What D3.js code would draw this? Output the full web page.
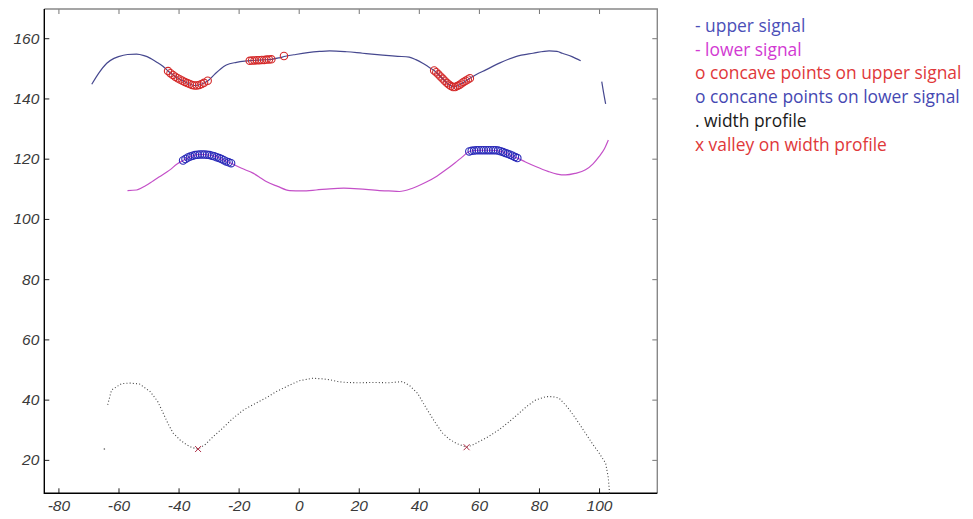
<!DOCTYPE html>
<html>
<head>
<meta charset="utf-8">
<script src="https://cdn.jsdelivr.net/npm/d3@7"></script>
<style>
  body { margin: 0; background: #fff; }
  .tick text { font-family: "Liberation Sans", Arial, sans-serif; font-style: italic; font-size: 15.5px; fill: #3a3a3a; }
  .legend text { font-family: "Open Sans", Lato, sans-serif; font-size: 17.4px; }
</style>
</head>
<body>
<svg width="973" height="519"></svg>
<script>
// upper signal, null marks the gap before the last short piece
const upperSignal = [
  [-68.9,144.7],[-66.5,148.5],[-63.9,151.7],[-61.5,153.3],[-60,153.9],[-57,154.6],[-54,154.7],
  [-51.5,154.2],[-49.5,153.4],[-47.5,152.2],[-45.1,150.6],[-43.5,149.1],[-41,147.2],[-38.5,145.8],
  [-36.5,144.9],[-34.6,144.3],[-32.5,144.7],[-30.2,145.9],[-28,148],[-26,149.8],[-24.1,151.1],
  [-20.7,152],[-18,152.4],[-15.7,152.6],[-12,152.8],[-9.1,153],[-6.5,153.5],[-4.4,154],[-1,154.6],
  [3,155.2],[7,155.6],[10.3,155.8],[16,155.5],[21.3,155],[28,154.4],[33,154],[36.8,153.7],
  [39,152.9],[41.3,151.7],[43.5,150.3],[45.1,149.3],[47.5,147],[49.5,145],[51.7,143.8],[54,144.8],
  [57,146.7],[59,147.9],[62.3,149.5],[67,151.8],[72.3,153.9],[78,155],[83.4,155.8],[86,155.6],
  [87.8,155],[91,153.9],[93.9,152.5],
  null,
  [100.9,145.6],[101.5,142],[102.2,138.2]
];

const lowerSignal = [
  [-57,109.4],[-54,109.6],[-51,111],[-48.5,112.6],[-46.2,114.1],[-43,116.2],[-40.5,118.2],
  [-38.5,119.4],[-36,120.7],[-33,121.4],[-30.5,121.3],[-27.5,120.7],[-25,119.6],[-22.5,118.5],
  [-19,116.8],[-15.2,115.2],[-12.5,113.5],[-10.8,112.4],[-7,110.8],[-3,109.4],[1,109.3],
  [5.8,109.6],[10.3,110],[15,110.2],[20,110],[26.9,109.4],[30,109.3],[33.5,109.1],[37.9,110.2],
  [42,112],[46,114.2],[49,116.3],[52,118.6],[54.5,120.6],[56.8,122.4],[60,122.8],[64,122.8],
  [67,122.5],[70,121.4],[72.8,120.2],[75.5,118.9],[78.9,117.4],[83,115.8],[86,114.9],[88.9,114.6],
  [92,115.1],[95.5,116.3],[98,118.3],[100,120.7],[101.8,123.3],[103.1,126.2]
];

const concaveUpper = [
  [-43.5,149.1],[-42.7,148.4],[-41.9,147.8],[-41.1,147.2],[-40.3,146.7],[-39.5,146.3],[-38.7,145.9],
  [-37.9,145.5],[-37.1,145.1],[-36.3,144.8],[-35.5,144.5],[-34.7,144.3],[-33.9,144.3],[-33.1,144.5],
  [-32.3,144.8],[-31.5,145.2],[-30.3,145.9],
  [-16.3,152.5],[-15.5,152.6],[-14.7,152.6],[-13.9,152.7],[-13.1,152.7],[-12.3,152.8],[-11.5,152.8],
  [-10.7,152.9],[-9.9,152.9],[-9.1,153],[-4.9,154.1],
  [45.1,149.3],[45.8,148.7],[46.5,148],[47.2,147.3],[47.9,146.6],[48.6,145.9],[49.3,145.2],
  [50,144.6],[50.7,144.1],[51.4,143.8],[52.1,143.8],[52.8,144.1],[53.5,144.5],[54.2,145],
  [54.9,145.5],[55.6,145.9],[56.3,146.3],[57,146.7]
];

const concaveLower = [
  [-38.5,119.4],[-37.7,119.9],[-36.9,120.4],[-36.1,120.7],[-35.3,121],[-34.5,121.2],[-33.7,121.3],
  [-32.9,121.4],[-32.1,121.4],[-31.3,121.4],[-30.5,121.3],[-29.7,121.2],[-28.9,121],[-28.1,120.8],
  [-27.3,120.5],[-26.5,120.2],[-25.7,119.9],[-24.9,119.5],[-24.1,119.1],[-23.3,118.8],[-22.5,118.5],
  [56.8,122.4],[57.6,122.6],[58.4,122.7],[59.2,122.8],[60,122.8],[60.8,122.8],[61.6,122.8],
  [62.4,122.8],[63.2,122.8],[64,122.8],[64.8,122.8],[65.6,122.8],[66.4,122.7],[67.2,122.5],
  [68,122.2],[68.8,121.9],[69.6,121.6],[70.4,121.3],[71.2,121],[72,120.6],[72.8,120.2]
];

// width profile, a stray first point then the main trace
const widthProfile = [
  [-64.7,23.6],
  null,
  [-63.6,38.3],[-62.3,43.2],[-59,45.3],[-56.2,45.5],[-53,45.2],[-49.5,42.7],[-47,39.5],[-45.1,35.5],
  [-43.5,32],[-41.8,28.9],[-39.5,26.6],[-37.3,25],[-35.5,24.1],[-33.5,23.6],[-31,25.2],[-28.5,27.7],
  [-25,30.8],[-21.9,33.8],[-18.5,36.5],[-15.2,38.3],[-11,40.5],[-7.4,42.7],[-3.5,44.6],[0.3,46.3],
  [4.7,47.1],[8,46.9],[10.3,46.6],[13,46],[15.8,45.7],[20,45.6],[25,45.7],[30,45.6],[34.6,46],
  [37,44.6],[39.6,42.1],[41.5,38.8],[43.5,35.5],[45.7,32],[47.9,28.9],[50,27],[52.4,25.5],
  [55.9,24.2],[58,25],[60.1,26.1],[63,27.6],[66.7,30],[70,32.6],[73.4,35.5],[76,37.8],[78.9,39.9],
  [82.3,41],[84.5,41],[86.7,40.5],[89.5,37.5],[92.2,33.8],[95,29.6],[97.7,25.5],[100,22.3],
  [102.2,18.9],[103.1,14],[103.5,8.9]
];

const valleys = [[-33.5,23.6],[55.9,24.2]];

const xTicks = [-80,-60,-40,-20,0,20,40,60,80,100];
const yTicks = [20,40,60,80,100,120,140,160];

const legendItems = [
  {text: "- upper signal", color: "#4b4fb8"},
  {text: "- lower signal", color: "#d23ad2"},
  {text: "o concave points on upper signal", color: "#e0383a"},
  {text: "o concane points on lower signal", color: "#4548b2"},
  {text: ". width profile", color: "#1a1a1a"},
  {text: "x valley on width profile", color: "#e0383a"}
];

const svg = d3.select("svg");
const pLeft = 44.3, pRight = 657.3, pTop = 9, pBottom = 493.3;

const x = d3.scaleLinear().domain([-84.7, 119.4]).range([pLeft, pRight]);
const y = d3.scaleLinear().domain([8.9, 169.7]).range([pBottom, pTop]);

// ticks on all four sides, pointing inwards
const gx = svg.append("g").attr("transform", `translate(0,${pBottom})`)
  .call(d3.axisBottom(x).tickValues(xTicks).tickSizeInner(-5).tickSizeOuter(0).tickPadding(7));
const gy = svg.append("g").attr("transform", `translate(${pLeft},0)`)
  .call(d3.axisLeft(y).tickValues(yTicks).tickSizeInner(-5).tickSizeOuter(0).tickPadding(5));
const gt = svg.append("g").attr("transform", `translate(0,${pTop})`)
  .call(d3.axisTop(x).tickValues(xTicks).tickSizeInner(-5).tickSizeOuter(0).tickFormat(""));
const gr = svg.append("g").attr("transform", `translate(${pRight},0)`)
  .call(d3.axisRight(y).tickValues(yTicks).tickSizeInner(-5).tickSizeOuter(0).tickFormat(""));
[gx, gy, gt, gr].forEach(g => g.select(".domain").remove());
gx.selectAll("line").attr("stroke", "#222");
gy.selectAll("line").attr("stroke", "#222");
gt.selectAll("line").attr("stroke", "#777");
gr.selectAll("line").attr("stroke", "#777");
// plain hyphen for negatives, as in the original
gx.selectAll("text").text(d => String(d));

// box: dark left/bottom, grey top/right
svg.append("path").attr("fill", "none").attr("stroke", "#888").attr("stroke-width", 1.4)
  .attr("d", `M${pLeft},${pTop}H${pRight}V${pBottom}`);
svg.append("path").attr("fill", "none").attr("stroke", "#000").attr("stroke-width", 1.4)
  .attr("d", `M${pLeft},${pTop}V${pBottom}H${pRight}`);

const line = d3.line()
  .defined(d => d !== null)
  .x(d => x(d[0])).y(d => y(d[1]))
  .curve(d3.curveMonotoneX);

svg.append("path").datum(upperSignal)
  .attr("fill", "none").attr("stroke", "#46488f").attr("stroke-width", 1.2)
  .attr("d", line);

svg.append("path").datum(lowerSignal)
  .attr("fill", "none").attr("stroke", "#c450c8").attr("stroke-width", 1.2)
  .attr("d", line);

svg.append("path").datum(widthProfile)
  .attr("fill", "none").attr("stroke", "#444").attr("stroke-width", 1.1)
  .attr("stroke-dasharray", "1,2.2")
  .attr("d", line.curve(d3.curveLinear));

// stray dot of the width profile
svg.append("circle")
  .attr("cx", x(widthProfile[0][0])).attr("cy", y(widthProfile[0][1]))
  .attr("r", 0.8).attr("fill", "#555");

svg.append("g").selectAll("circle").data(concaveUpper).join("circle")
  .attr("cx", d => x(d[0])).attr("cy", d => y(d[1])).attr("r", 3.7)
  .attr("fill", "none").attr("stroke", "#d42a2a").attr("stroke-width", 1.1);

svg.append("g").selectAll("circle").data(concaveLower).join("circle")
  .attr("cx", d => x(d[0])).attr("cy", d => y(d[1])).attr("r", 3.7)
  .attr("fill", "none").attr("stroke", "#2a2ab8").attr("stroke-width", 1.1);

svg.append("g").selectAll("path").data(valleys).join("path")
  .attr("transform", d => `translate(${x(d[0])},${y(d[1])})`)
  .attr("d", "M-3,-3L3,3M-3,3L3,-3")
  .attr("stroke", "#b03048").attr("stroke-width", 1);

svg.append("g").attr("class", "legend")
  .selectAll("text").data(legendItems).join("text")
  .attr("x", 695)
  .attr("y", (d, i) => 31.8 + i * 23.8)
  .attr("fill", d => d.color)
  .text(d => d.text);
</script>
</body>
</html>
